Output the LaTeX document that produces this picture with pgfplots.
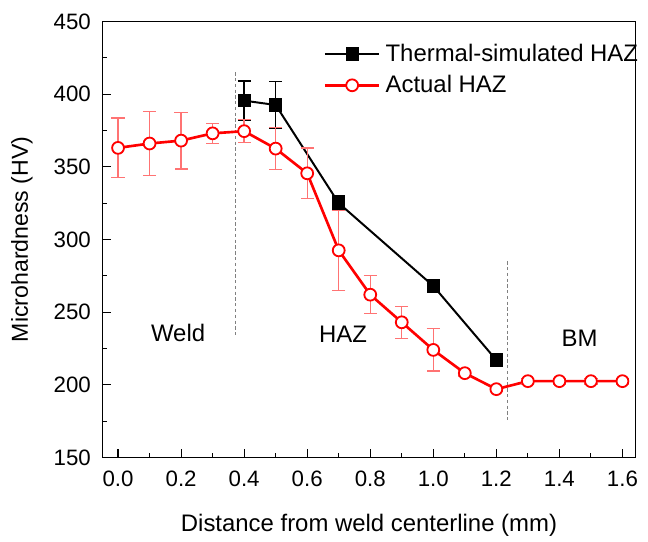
\documentclass[border=0pt]{standalone}
\usepackage{pgfplots}
\pgfplotsset{compat=1.18}
\usepackage{fontspec}
\setmainfont{Liberation Sans}
\begin{document}
\begin{tikzpicture}
\begin{axis}[
  scale only axis,
  width=323.3pt, height=264.4pt,
  xmin=-0.0496, xmax=1.6417,
  ymin=150, ymax=450,
  xtick={0,0.2,...,1.6},
  ytick={150,200,...,450},
  minor x tick num=1,
  minor y tick num=1,
  tick align=inside,
  tick pos=left,
  major tick length=5pt,
  minor tick length=3pt,
  /pgf/number format/assume math mode=true,
  xticklabel style={/pgf/number format/.cd, fixed, fixed zerofill, precision=1, /tikz/.cd, yshift=-4.5pt},
  yticklabel style={/pgf/number format/.cd, fixed, precision=0, /tikz/.cd, xshift=-3.5pt},
  tick label style={font=\fontsize{13.5}{16}\selectfont},
  xlabel={Distance from weld centerline (mm)},
  ylabel={Microhardness (HV)},
  xlabel style={font=\fontsize{14.5}{17}\selectfont, at={(axis description cs:0.5,-0.1555)}, anchor=center},
  ylabel style={font=\fontsize{14}{16}\selectfont, at={(axis description cs:-0.151,0.5)}, anchor=center},
  axis line style={line width=1.1pt},
  every tick/.style={black, line width=0.7pt},
  legend style={at={(0.405,0.964)}, anchor=north west, draw=none, fill=none,
    font=\fontsize{14.5}{17}\selectfont, row sep=3pt,
    nodes={inner xsep=3pt}},
  legend image code/.code={\draw[mark repeat=2,mark phase=2,#1] plot coordinates {(0pt,0pt) (16.5pt,0pt) (33pt,0pt)};},
  legend cell align=left,
  clip=false,
]
% dashed boundaries
\addplot[gray, dash pattern=on 2pt off 1.5pt, line width=0.6pt, forget plot] coordinates {(0.3735,415) (0.3735,234)};
\addplot[gray, dash pattern=on 2pt off 1.5pt, line width=0.6pt, forget plot] coordinates {(1.235,285) (1.235,176)};

\addplot[black, line width=1.2pt, mark=square*, mark size=3.4pt,
  error bars/.cd, y dir=both, y explicit,
  error bar style={black, line width=0.9pt},
  error mark options={rotate=90, mark size=4pt, line width=0.9pt, black}]
  coordinates {
  (0.4,395.5) +- (0,13.5)
  (0.5,392.5) +- (0,16)
  (0.7,325) +- (0,5)
  (1.0,268) +- (0,1.5)
  (1.2,217) +- (0,1.5)
};
\addlegendentry{Thermal-simulated HAZ}

\addplot[red, line width=1.6pt, mark=*, mark size=3.6pt,
  mark options={fill=white, draw=red, line width=1.1pt},
  error bars/.cd, y dir=both, y explicit,
  error bar style={red!55, line width=0.8pt},
  error mark options={rotate=90, mark size=4pt, line width=0.8pt, red!55}]
  coordinates {
  (0.0,363) +- (0,20.5)
  (0.1,366) +- (0,22)
  (0.2,368) +- (0,19.5)
  (0.3,373) +- (0,7)
  (0.4,374.5) +- (0,8)
  (0.5,362.5) +- (0,14.5)
  (0.6,345.5) +- (0,17.5)
  (0.7,292.5) +- (0,27.5)
  (0.8,262) +- (0,13)
  (0.9,243) +- (0,11)
  (1.0,224) +- (0,14.5)
  (1.1,208) +- (0,2)
  (1.2,197) +- (0,1.5)
  (1.3,202.5) +- (0,2)
  (1.4,202.5) +- (0,2)
  (1.5,202.5) +- (0,2)
  (1.6,202.5) +- (0,2)
};
\addlegendentry{Actual HAZ}

\node[font=\fontsize{14.5}{17}\selectfont] at (axis cs:0.1905,236) {Weld};
\node[font=\fontsize{14.5}{17}\selectfont] at (axis cs:0.7137,234.6) {HAZ};
\node[font=\fontsize{14.5}{17}\selectfont] at (axis cs:1.4642,231.9) {BM};
\end{axis}
\path (current axis.south west) ++(-62.1pt,-50.2pt) coordinate (bl);
\path (current axis.north east) ++(3.4pt,13pt) coordinate (tr);
\path (bl) rectangle (tr);
\end{tikzpicture}
\end{document}
